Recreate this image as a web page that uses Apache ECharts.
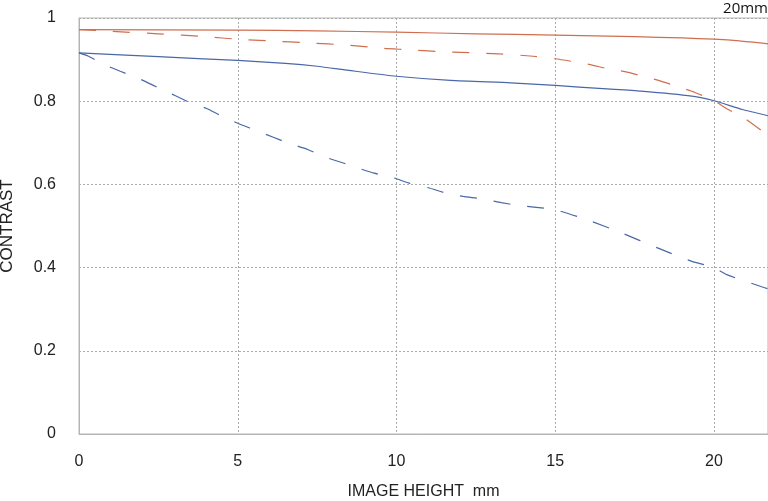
<!DOCTYPE html>
<html>
<head>
<meta charset="utf-8">
<script src="https://cdn.jsdelivr.net/npm/echarts@6/dist/echarts.min.js"></script>
<style>
  html, body { margin: 0; padding: 0; background: #fff; }
  #chart { width: 768px; height: 501px; }
</style>
</head>
<body>
<div id="chart"></div>
<script>
// MTF data: [image height mm, contrast]
const redSolid = [[0,0.972],[5,0.971],[7.5,0.969],[10,0.966],[12.5,0.962],[15,0.959],[17.5,0.955],[19,0.952],[20,0.949],[20.8,0.945],[21.7,0.938]];
const redDashed = [[0,0.972],[1,0.968],[2.5,0.962],[4,0.955],[5,0.949],[6,0.945],[7.3,0.940],[8.4,0.935],[9.6,0.927],[10.3,0.924],[11.4,0.919],[13.2,0.914],[14.3,0.908],[15,0.902],[15.5,0.896],[16.1,0.888],[16.6,0.879],[17.2,0.871],[17.8,0.859],[18.3,0.849],[18.9,0.834],[19.4,0.821],[20,0.801],[20.4,0.782],[21,0.757],[21.5,0.729],[21.7,0.716]];
const blueSolid = [[0,0.916],[2.5,0.907],[5,0.898],[6.5,0.891],[7.5,0.884],[8.5,0.874],[10,0.860],[11.7,0.850],[13.6,0.844],[15,0.838],[16.5,0.830],[17.7,0.824],[19.3,0.812],[20,0.801],[20.9,0.780],[21.7,0.765]];
const blueDashed = [[0,0.916],[0.3,0.908],[0.8,0.888],[1.3,0.872],[1.9,0.854],[2.4,0.836],[2.9,0.818],[3.4,0.800],[4,0.783],[4.5,0.764],[5,0.747],[5.5,0.732],[6.1,0.714],[6.6,0.699],[7.2,0.684],[7.7,0.667],[8.3,0.652],[8.8,0.639],[9.3,0.627],[9.9,0.616],[10.4,0.603],[11,0.592],[11.6,0.578],[12.1,0.571],[12.7,0.565],[13.3,0.556],[13.8,0.550],[14.4,0.545],[15,0.539],[16,0.515],[17.1,0.483],[18.2,0.448],[19.3,0.415],[20,0.400],[20.4,0.383],[21.5,0.354],[21.7,0.349]];

const focalLabel = "20mm";
const xName = "IMAGE HEIGHT  mm";
const yName = "CONTRAST";

const red = "#cf6f50";
const blue = "#4a67a8";
const font = "'Liberation Sans', Arial, sans-serif";

const chart = echarts.init(document.getElementById("chart"));

const line = (data, color, dashed) => ({
  type: "line",
  data: data,
  showSymbol: false,
  smooth: 0.2,
  animation: false,
  lineStyle: { color: color, width: 1.2, type: dashed ? [17, 17] : "solid" },
});

chart.setOption({
  animation: false,
  title: {
    text: focalLabel,
    right: -5,
    top: -4,
    textStyle: { fontFamily: "'Open Sans', sans-serif", fontSize: 15, fontWeight: "normal", color: "#111" },
  },
  grid: {
    left: 79,
    right: 0,
    top: 18,
    bottom: 67,
    outerBoundsMode: "none",
    containLabel: false,
    show: true,
    borderColor: "#b5b5b5",
    borderWidth: 1,
  },
  xAxis: {
    type: "value",
    min: 0,
    max: 21.7,
    interval: 5,
    name: xName,
    nameLocation: "middle",
    nameGap: 50,
    nameTextStyle: { fontFamily: font, fontSize: 16, color: "#222" },
    axisLine: { show: true, lineStyle: { color: "#b5b5b5" } },
    axisTick: { show: false },
    axisLabel: {
      margin: 20,
      fontFamily: font,
      fontSize: 16,
      color: "#222",
      showMaxLabel: false,
    },
    splitLine: { show: true, lineStyle: { color: "#aaa", type: [2, 2] } },
  },
  yAxis: {
    type: "value",
    min: 0,
    max: 1,
    interval: 0.2,
    name: yName,
    nameLocation: "middle",
    nameGap: 63,
    nameTextStyle: { fontFamily: font, fontSize: 17, color: "#222" },
    axisLine: { show: true, lineStyle: { color: "#b5b5b5" } },
    axisTick: { show: false },
    axisLabel: {
      margin: 23,
      fontFamily: font,
      fontSize: 16,
      color: "#222",
      formatter: (v) => String(Math.round(v * 10) / 10),
    },
    splitLine: { show: true, lineStyle: { color: "#aaa", type: [2, 2] } },
  },
  series: [
    line(redSolid, red, false),
    line(redDashed, red, true),
    line(blueSolid, blue, false),
    line(blueDashed, blue, true),
  ],
});
</script>
</body>
</html>
